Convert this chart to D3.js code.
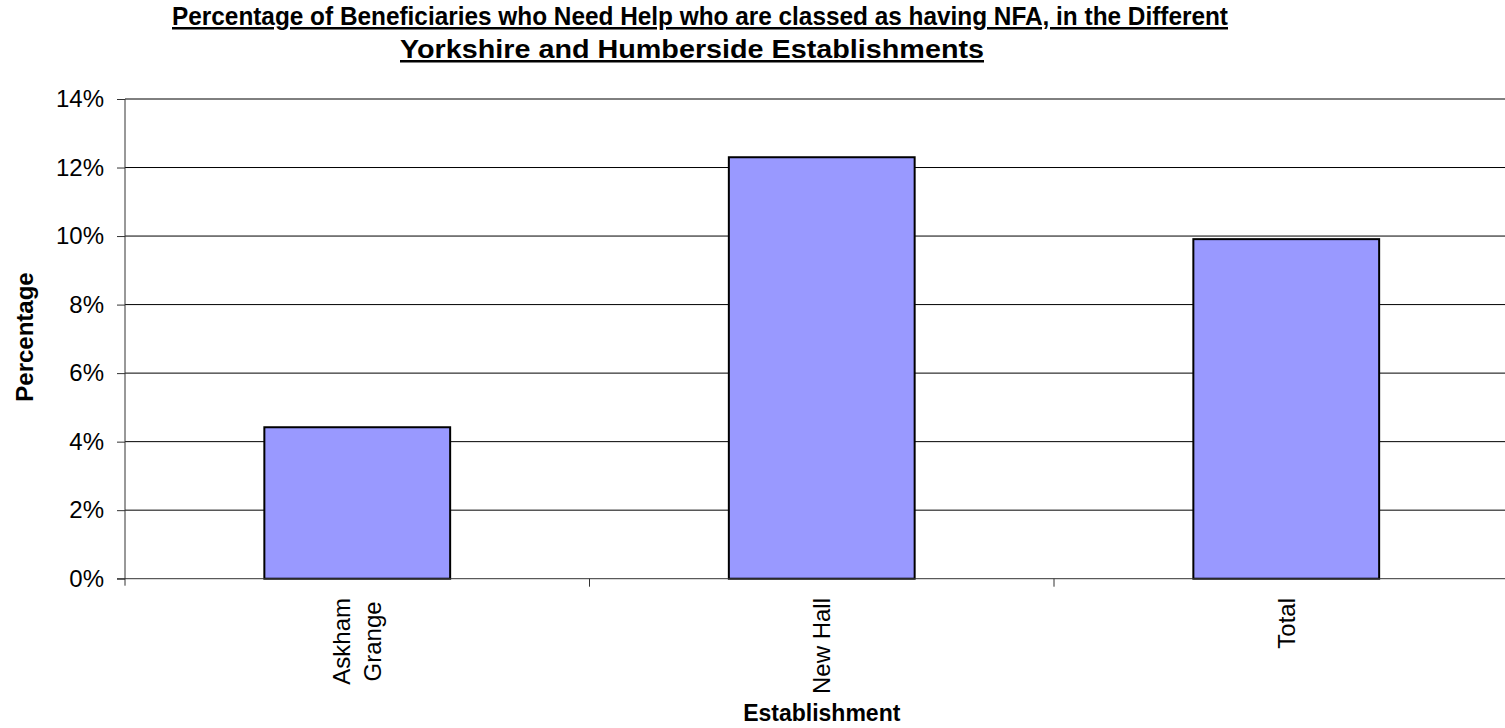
<!DOCTYPE html>
<html><head><meta charset="utf-8">
<script src="https://cdn.jsdelivr.net/npm/d3@7"></script>
<style>html,body{margin:0;padding:0;background:#fff;overflow:hidden}svg{display:block}text{font-family:"Liberation Sans",Arial,sans-serif;fill:#000}</style>
</head><body>
<svg id="c" width="1505" height="728"></svg>
<script>
const categories = ["Askham Grange", "New Hall", "Total"];
const categoryLines = [["Askham", "Grange"], ["New Hall"], ["Total"]];
const values = [0.0442, 0.1230, 0.0991];
const yTicks = [0, 0.02, 0.04, 0.06, 0.08, 0.10, 0.12, 0.14];
const titleLines = ["Percentage of Beneficiaries who Need Help who are classed as having NFA, in the Different", "Yorkshire and Humberside Establishments"];

(function () {
const svg = d3.select("#c");
const pLeft = 125, pRight = 125 + 3 * 464.5, pTop = 99, pBottom = 578.7;
const x = d3.scaleBand().domain(categories).range([pLeft, pRight]).padding(0);
const y = d3.scaleLinear().domain([0, 0.14]).range([pBottom, pTop]);
const barW = x.bandwidth() * 0.4;

// gridlines
svg.append("g").selectAll("line").data(yTicks.filter(d => d > 0)).join("line")
  .attr("x1", pLeft).attr("x2", pRight).attr("y1", d => y(d)).attr("y2", d => y(d))
  .attr("stroke", "#000").attr("stroke-width", 1);

// bars
svg.append("g").selectAll("rect").data(values).join("rect")
  .attr("x", (d, i) => x(categories[i]) + (x.bandwidth() - barW) / 2)
  .attr("width", barW)
  .attr("y", d => y(d)).attr("height", d => y(0) - y(d))
  .attr("fill", "#9999FF").attr("stroke", "#000").attr("stroke-width", 2);

// y axis
const yAxis = d3.axisLeft(y).tickValues(yTicks).tickSize(8).tickPadding(13).tickFormat(d3.format(".0%"));
const gy = svg.append("g").attr("transform", `translate(${pLeft},0)`).call(yAxis);
gy.select(".domain").attr("d", `M0,${pTop}V${pBottom + 7}`).attr("stroke", "#333");
gy.selectAll(".tick line").attr("stroke", "#333");
gy.selectAll("text").attr("font-size", 24).attr("font-family", '"Liberation Sans",Arial,sans-serif').attr("fill", "#000");

// x axis
const gx = svg.append("g").attr("transform", `translate(0,${pBottom})`);
gx.append("line").attr("x1", pLeft - 8).attr("x2", pRight).attr("y1", 0).attr("y2", 0).attr("stroke", "#333");
gx.selectAll("line.t").data(categories).join("line").attr("class", "t")
  .attr("x1", d => x(d) + x.step()).attr("x2", d => x(d) + x.step())
  .attr("y1", 0).attr("y2", 8).attr("stroke", "#333");

// x labels (rotated)
categoryLines.forEach((lines, i) => {
  const cx = x(categories[i]) + x.bandwidth() / 2;
  const lh = 31;
  const g = svg.append("g");
  const texts = lines.map((ln, j) => {
    const off = (j - (lines.length - 1) / 2) * lh;
    return g.append("text").text(ln).attr("font-size", 24).attr("text-anchor", "middle")
      .attr("dy", "0.35em").attr("data-off", off);
  });
  const maxLen = d3.max(texts, t => t.node().getComputedTextLength());
  const cy = 598 + maxLen / 2;
  texts.forEach(t => {
    const off = +t.attr("data-off");
    t.attr("transform", `translate(${cx + off},${cy}) rotate(-90)`);
  });
});

// axis titles
svg.append("text").text("Percentage").attr("font-size", 24).attr("font-weight", "bold")
  .attr("text-anchor", "middle").attr("transform", `translate(33,337) rotate(-90)`);
svg.append("text").text("Establishment").attr("font-size", 23).attr("font-weight", "bold")
  .attr("text-anchor", "middle").attr("x", (pLeft + pRight) / 2).attr("y", 721);

// title
const tt = [{t: titleLines[0], y: 25, w: 1056, cx: 700}, {t: titleLines[1], y: 58, w: 584, cx: 692}];
tt.forEach(o => {
  svg.append("text").text(o.t).attr("x", o.cx).attr("y", o.y).attr("text-anchor", "middle")
    .attr("font-size", 25).attr("font-weight", "bold").attr("text-decoration", "underline")
    .attr("textLength", o.w).attr("lengthAdjust", "spacingAndGlyphs");
});
})();
</script>
</body></html>
